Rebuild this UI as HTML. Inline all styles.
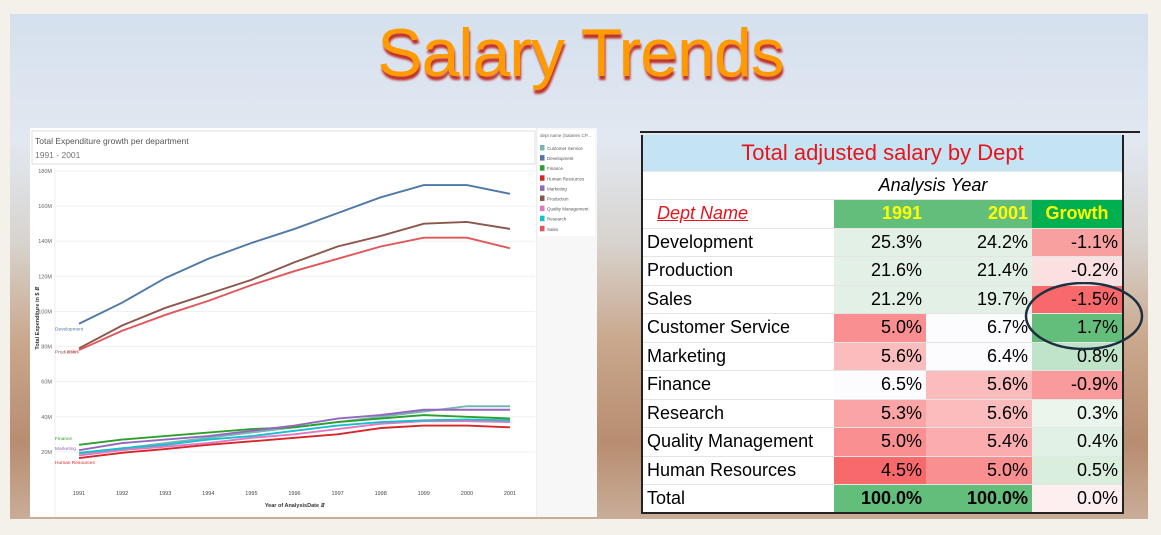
<!DOCTYPE html>
<html><head><meta charset="utf-8"><style>
body{margin:0;width:1161px;height:535px;overflow:hidden;background:#f4f1ea;font-family:"Liberation Sans",sans-serif;position:relative}
#panel{position:absolute;left:10px;top:14px;width:1138px;height:505px;background:linear-gradient(180deg,#d5e0ee 0%,#e2e8f1 25%,#d8d4cf 45%,#c9a78c 65%,#b88d70 85%,#c9ad98 100%)}
#title{position:absolute;left:0;width:1161px;top:14px;text-align:center;font-size:68px;color:#ff9a00;letter-spacing:-1px;text-shadow:1px 4px 2px #c0302a}
#chartbox{position:absolute;left:30px;top:128px;width:567px;height:389px;background:#fff}
table{position:absolute;left:641px;top:135px;border-collapse:collapse;font-family:"Liberation Sans",sans-serif;font-size:18px;table-layout:fixed;background:#fff}
td{height:28.5px;padding:0 4px;border-bottom:1px solid #e4e4e4;box-sizing:border-box;background:#fff}
td.n{text-align:right}
</style></head><body>
<div id="panel"></div>
<div id="title">Salary Trends</div>
<div id="chartbox">
<svg id="chart" width="567" height="389"></svg>
</div>
<div style="position:absolute;left:640px;top:131px;width:500px;height:2px;background:#222"></div>
<table style="width:481px;border:2px solid #222;border-top:none">
<colgroup><col style="width:192px"><col style="width:92px"><col style="width:106px"><col style="width:91px"></colgroup>
<tr><td colspan="4" style="background:#c5e4f3;color:#e8141c;text-align:center;font-size:22px;height:36px">Total adjusted salary by Dept</td></tr>
<tr><td></td><td colspan="2" style="text-align:center;font-style:italic">Analysis Year</td><td></td></tr>
<tr><td style="color:#e8141c;font-style:italic;text-decoration:underline;padding-left:14px">Dept Name</td><td class="n" style="background:#63be7b;color:#ffff00;font-weight:bold">1991</td><td class="n" style="background:#63be7b;color:#ffff00;font-weight:bold">2001</td><td style="background:#00b050;color:#ffff00;font-weight:bold;text-align:center">Growth</td></tr>
<tbody id="tb"></tbody>
</table>
<svg style="position:absolute;left:1020px;top:282px" width="130" height="72"><ellipse cx="64" cy="34" rx="58" ry="33" fill="none" stroke="#1d3040" stroke-width="2.5"/></svg>
<script>
const rows=[["Development","25.3%","24.2%","-1.1%","#e2f0e6","#e2f0e6","#f8a0a0"],
["Production","21.6%","21.4%","-0.2%","#e2f0e6","#e2f0e6","#fbe0e2"],
["Sales","21.2%","19.7%","-1.5%","#e2f0e6","#e2f0e6","#f8696b"],
["Customer Service","5.0%","6.7%","1.7%","#f98f91","#fcfcff","#63be7b"],
["Marketing","5.6%","6.4%","0.8%","#fbbcbe","#fcfcff","#c0e4c9"],
["Finance","6.5%","5.6%","-0.9%","#fcfcff","#fbbcbe","#f99a9c"],
["Research","5.3%","5.6%","0.3%","#faa4a6","#fbbcbe","#eaf5ec"],
["Quality Management","5.0%","5.4%","0.4%","#f98f91","#faacae","#e2f1e5"],
["Human Resources","4.5%","5.0%","0.5%","#f8696b","#f98f91","#d9eedd"],
["Total","100.0%","100.0%","0.0%","#63be7b","#63be7b","#fdeef0"]];
const tb=document.getElementById('tb');
rows.forEach((r,i)=>{const tr=document.createElement('tr');


[r[0],r[1],r[2],r[3]].forEach((v,j)=>{const td=document.createElement('td');td.textContent=v;
if(j>0){td.className='n';td.style.background=r[3+j];}
if(i==9&&j>0&&j<3)td.style.fontWeight='bold';


tr.appendChild(td);});tb.appendChild(tr);});

const years=[1991,1992,1993,1994,1995,1996,1997,1998,1999,2000,2001];
const yTicks=[20,40,60,80,100,120,140,160,180];
const seriesNames=["Customer Service","Development","Finance","Human Resources","Marketing","Production","Quality Management","Research","Sales"];
const colors=["#76b7b2","#4e79a7","#2ca02c","#d62728","#9467bd","#8c564b","#e377c2","#17becf","#e15759"];
const custSvc=[19,22,25,28,31,34,37,40,43,46,46];
const dev=[93,105,119,130,139,147,156,165,172,172,167];
const fin=[24,27,29,31,33,34,37,39,41,40,39];
const hr=[16.5,19.5,21.6,24,26,28,30,33.6,35,35,34];
const mkt=[21,25,27,29,32,35,39,41,44,44,44];
const prod=[79,92,102,110,118,128,137,143,150,151,147];
const qm=[18,21,23,25,28,30,33,36,37.5,37.5,37];
const res=[19.5,22,24,27,29,32,35,37,38,38.5,38];
const sales=[78,89,98,106,115,123,130,137,142,142,136];
const allSeries=[custSvc,dev,fin,hr,mkt,prod,qm,res,sales];
const NS='http://www.w3.org/2000/svg';const svg=document.getElementById('chart');
function mk(t,a,p){const e=document.createElementNS(NS,t);for(const k in a)e.setAttribute(k,a[k]);(p||svg).appendChild(e);return e;}
const x0=49,x1=480,yTop=43,yZero=359;
const xs=i=>x0+(x1-x0)*i/(years.length-1);
const ys=v=>yZero-(yZero-yTop)*v/180;
mk('rect',{x:2,y:3,width:503,height:33,fill:'#fff',stroke:'#ddd'});
let t=mk('text',{x:5,y:16,'font-size':8.5,fill:'#555'});t.textContent='Total Expenditure growth per department';

t=mk('text',{x:5,y:30,'font-size':8.5,fill:'#777'});t.textContent='1991 - 2001';
mk('line',{x1:25,y1:40,x2:25,y2:389,stroke:'#eee'});
mk('line',{x1:507,y1:0,x2:507,y2:389,stroke:'#ddd'});
yTicks.forEach(v=>{const l=mk('line',{x1:25,x2:505,y1:ys(v),y2:ys(v),stroke:'#f0f0f0'});

const tx=mk('text',{x:22,y:ys(v)+2,'font-size':5.5,fill:'#666','text-anchor':'end'});tx.textContent=v+'M';
});
years.forEach((y,i)=>{const tx=mk('text',{x:xs(i),y:367,'font-size':5.5,fill:'#444','text-anchor':'middle'});tx.textContent=y;
});
t=mk('text',{x:265,y:379,'font-size':5.5,'font-weight':'bold',fill:'#333','text-anchor':'middle'});t.textContent='Year of AnalysisDate ⇵';

t=mk('text',{x:0,y:0,'font-size':5.5,'font-weight':'bold',fill:'#333','text-anchor':'middle',transform:'translate(9,190) rotate(-90)'});t.textContent='Total Expenditure in $ ⇵';

allSeries.forEach((s,k)=>{const p=mk('polyline',{points:s.map((v,i)=>xs(i)+','+ys(v)).join(' '),fill:'none',stroke:colors[k],'stroke-width':1.9});

});
[["Development",1,4,7],["Production",5,4,5],["Sales",8,-1,3],["Finance",2,4,-5],["Marketing",4,-3,0],["Human Resources",3,-2,6]].forEach(a=>{
const tx=mk('text',{x:x0-24+(a[0]=="Sales"?12:0),y:ys(allSeries[a[1]][0])+a[3],'font-size':4.8,fill:colors[a[1]]});tx.textContent=a[0];
});
mk('rect',{x:507,y:0,width:60,height:389,fill:'#f7f7f7'});
mk('rect',{x:508,y:2,width:57,height:106,fill:'#fff'});
t=mk('text',{x:510,y:9,'font-size':4.5,fill:'#666'});t.textContent='dept name (Salaries CP...';
seriesNames.forEach((n,k)=>{const g=mk('g',{});
mk('rect',{x:510,y:17+k*10.1,width:4.5,height:5.5,fill:colors[k]},g);
const tx=mk('text',{x:517,y:22+k*10.1,'font-size':4.5,fill:'#555'},g);tx.textContent=n;});
</script>
</body></html>
